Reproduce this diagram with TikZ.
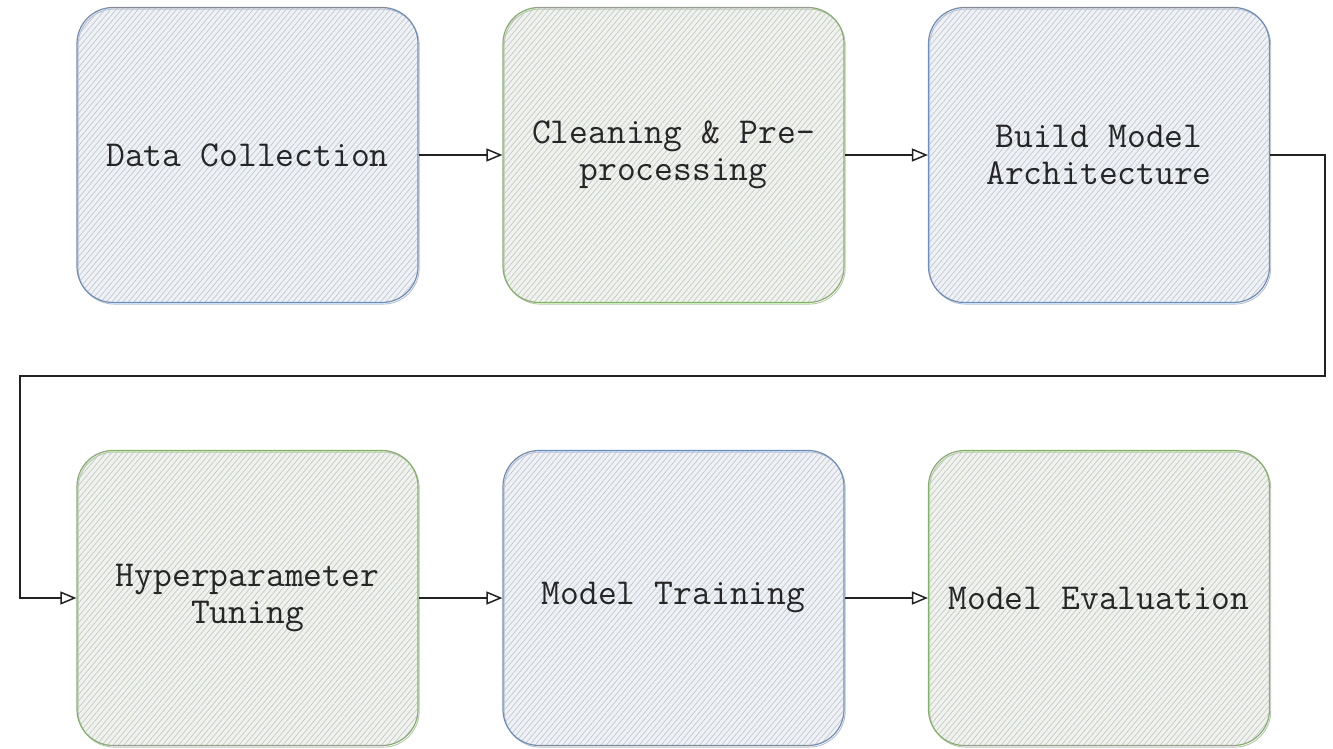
\documentclass[tikz,border=0pt]{standalone}
\usepackage{fontspec}
\usetikzlibrary{arrows.meta,patterns.meta}
\definecolor{bluebd}{HTML}{6C8EBF}
\definecolor{bluefill}{HTML}{EEF2F7}
\definecolor{greenbd}{HTML}{82B366}
\definecolor{greenfill}{HTML}{F0F2EC}
\definecolor{hatch}{HTML}{C4C8CC}
\definecolor{arrowc}{HTML}{222222}
\newcommand\wsp{\hspace{0.525em}}
\tikzset{
  procbox/.style={rectangle, rounded corners=36pt, line width=1.2pt,
    minimum width=341pt, minimum height=295pt, inner sep=0pt,
    text width=330pt, align=center, text=black!85,
    font=\ttfamily\fontsize{36.5}{37}\selectfont,
    preaction={fill=#1},
    preaction={draw=black!25, line width=0.9pt, transform canvas={xshift=1.2pt,yshift=-1.6pt}},
    preaction={pattern={Lines[angle=50,distance=4.2pt,line width=0.7pt]}, pattern color=hatch}},
  bluebox/.style={procbox=bluefill, draw=bluebd},
  greenbox/.style={procbox=greenfill, draw=greenbd},
  flow/.style={draw=arrowc, line width=1.3pt, -{Triangle[open, length=16pt, width=13pt, line width=1.5pt]}}
}
\begin{document}
\begin{tikzpicture}[x=1pt,y=-1pt]
\useasboundingbox (0,0) rectangle (1333,749);
\node[bluebox]  (b1) at (247.5,155) {Data\wsp Collection};
\node[greenbox] (b2) at (673.5,155) {Cleaning\wsp\&\wsp Pre-\\processing};
\node[bluebox]  (b3) at (1099,155) {Build\wsp Model\\Architecture};
\node[greenbox] (b4) at (247.5,598) {Hyperparameter\\Tuning};
\node[bluebox]  (b5) at (673.5,598) {Model\wsp Training};
\node[greenbox] (b6) at (1099,598) {Model\wsp Evaluation};
\coordinate (r) at (1325,376);
\coordinate (l) at (20,598);
\draw[flow] (b1.east) -- (b2.west);
\draw[flow] (b2.east) -- (b3.west);
\draw[flow] (b3.east) -| (r) -| (l) -- (b4.west);
\draw[flow] (b4.east) -- (b5.west);
\draw[flow] (b5.east) -- (b6.west);
\end{tikzpicture}
\end{document}
